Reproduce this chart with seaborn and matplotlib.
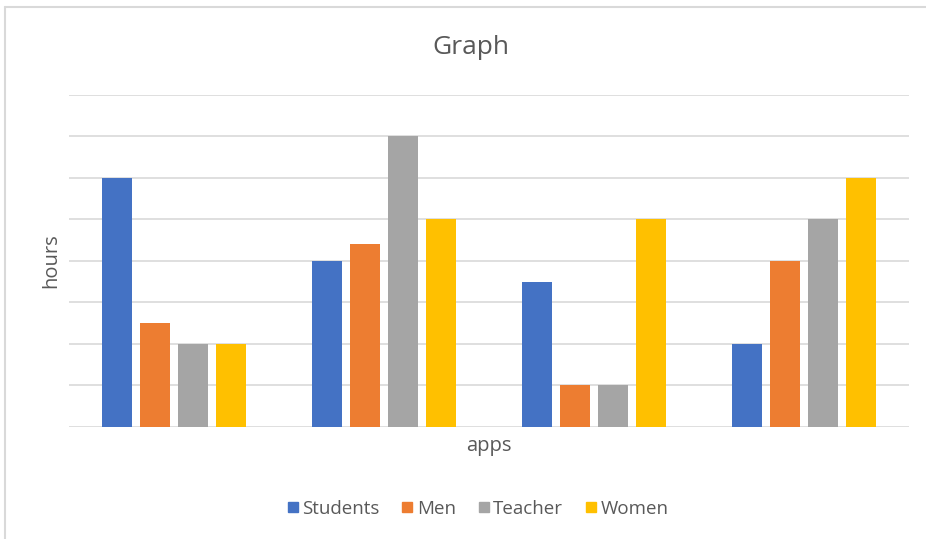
import matplotlib
matplotlib.use("Agg")
import matplotlib.pyplot as plt
from matplotlib.lines import Line2D
import seaborn as sns
import pandas as pd

# Hours spent per app group
apps = ["App 1", "App 2", "App 3", "App 4"]
series = ["Students", "Men", "Teacher", "Women"]
students = [6, 4, 3.5, 2]
men = [2.5, 4.4, 1, 4]
teacher = [2, 7, 1, 5]
women = [2, 5, 5, 6]
colors = ["#4472C4", "#ED7D31", "#A5A5A5", "#FFC000"]

rows = []
for name, vals in zip(series, [students, men, teacher, women]):
    for app, v in zip(apps, vals):
        rows.append({"app": app, "group": name, "hours": v})
df = pd.DataFrame(rows)

sns.set_style("white")
plt.rcParams["font.family"] = ["Open Sans", "DejaVu Sans"]
text_color = "#595959"

fig = plt.figure(figsize=(9.26, 5.39), dpi=100)
ax = fig.add_axes([69 / 926, 1 - 426.7 / 539, 840 / 926, (426.7 - 95) / 539])

sns.barplot(data=df, x="app", y="hours", hue="group", hue_order=series,
            palette=colors, width=0.724, gap=0.21, saturation=1,
            errorbar=None, legend=False, ax=ax, zorder=3, linewidth=0)

ax.set_ylim(0, 8)
ax.set_xlim(-0.5, 3.5)
ax.set_yticks(range(0, 9))
ax.yaxis.grid(True, color="#D9D9D9", linewidth=1.2, zorder=0)
ax.set_axisbelow(True)
ax.set_yticklabels([])
ax.set_xticks([])
ax.tick_params(left=False, bottom=False)
for s in ax.spines.values():
    s.set_visible(False)
ax.set_xlabel("")
ax.set_ylabel("")

fig.text(489 / 926, 1 - 446 / 539, "apps", ha="center", va="center",
         fontsize=14.5, color=text_color)
fig.text(51 / 926, 1 - 261 / 539, "hours", ha="center", va="center",
         rotation=90, fontsize=14.5, color=text_color)
fig.text(471 / 926, 1 - 47 / 539, "Graph", ha="center", va="center",
         fontsize=19, color=text_color)

handles = [Line2D([0], [0], marker="s", linestyle="none", markersize=7.5,
                  markerfacecolor=c, markeredgecolor=c) for c in colors]
fig.legend(handles, series, loc="center", bbox_to_anchor=(476 / 926, 1 - 509 / 539),
           ncol=4, frameon=False, fontsize=13.5, labelcolor=text_color,
           handletextpad=0.0, columnspacing=1.0, handlelength=1.0)

# Chart area border (top and left edges)
fig.add_artist(Line2D([5 / 926, 5 / 926], [0, 1 - 7 / 539], transform=fig.transFigure,
                      color="#D9D9D9", linewidth=1.5))
fig.add_artist(Line2D([5 / 926, 1], [1 - 7 / 539, 1 - 7 / 539], transform=fig.transFigure,
                      color="#D9D9D9", linewidth=1.5))

fig.savefig("out.png", dpi=100)
